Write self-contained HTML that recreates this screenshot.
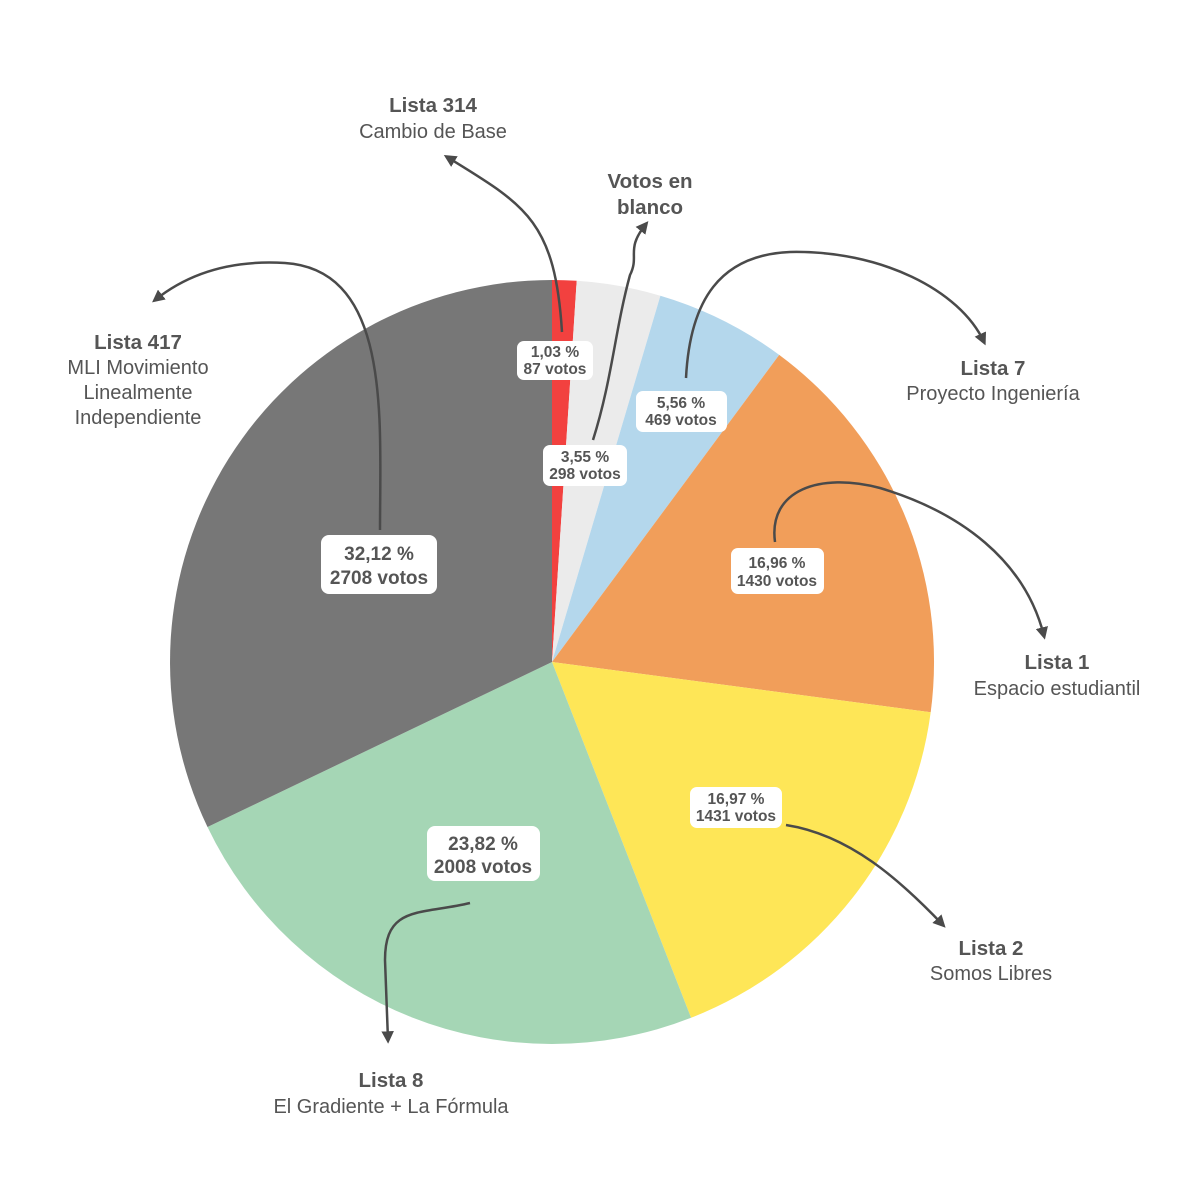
<!DOCTYPE html>
<html><head><meta charset="utf-8"><style>
html,body{margin:0;padding:0;background:#fff;}
svg{display:block;font-family:"Liberation Sans",sans-serif;}
.t{font-weight:bold;font-size:20.5px;fill:#555;text-anchor:middle}
.s{font-size:20px;fill:#555;text-anchor:middle}
.b{font-weight:bold;fill:#555;text-anchor:middle}
.a{fill:none;stroke:#4a4a4a;stroke-width:2.5;marker-end:url(#m)}
</style></head><body>
<svg width="1200" height="1200" viewBox="0 0 1200 1200">
<defs><marker id="m" viewBox="0 0 10 10" refX="7" refY="5" markerWidth="5" markerHeight="5" orient="auto"><path d="M0,0 L10,5 L0,10 z" fill="#4a4a4a"/></marker></defs>
<path d="M552,662 L552,280 A382,382 0 0,1 576.7,280.8 Z" fill="#f2413f"/>
<path d="M552,662 L576.7,280.8 A382,382 0 0,1 660.4,295.7 Z" fill="#ebebeb"/>
<path d="M552,662 L660.4,295.7 A382,382 0 0,1 779.2,354.9 Z" fill="#b4d7ec"/>
<path d="M552,662 L779.2,354.9 A382,382 0 0,1 930.7,712.3 Z" fill="#f19e5a"/>
<path d="M552,662 L930.7,712.3 A382,382 0 0,1 691.1,1017.8 Z" fill="#fee657"/>
<path d="M552,662 L691.1,1017.8 A382,382 0 0,1 207.5,827 Z" fill="#a5d6b5"/>
<path d="M552,662 L207.5,827 A382,382 0 0,1 552,280 Z" fill="#777777"/>

<path class="a" d="M562,332 C555,220 525,205 447,157"/>
<path class="a" d="M593,440 C612,380 615,330 630,275 C640,255 625,250 646,224"/>
<path class="a" d="M686,378 C690,300 720,255 790,252 C880,250 960,290 984,342"/>
<path class="a" d="M775,542 C768,490 820,472 880,488 C960,512 1025,560 1044,636"/>
<path class="a" d="M786,825 C850,835 900,880 943,925"/>
<path class="a" d="M470,903 C420,915 385,905 385,960 L388,1040"/>
<path class="a" d="M380,530 C380,420 392,270 285,263 C220,259 180,280 155,300"/>

<rect x="517" y="341" width="76" height="39" rx="7" fill="#fff"/>
<text class="b" font-size="15.5" x="555" y="357">1,03 %</text><text class="b" font-size="15.5" x="555" y="374">87 votos</text>
<rect x="543" y="445" width="84" height="41" rx="7" fill="#fff"/>
<text class="b" font-size="15.5" x="585" y="462">3,55 %</text><text class="b" font-size="15.5" x="585" y="479">298 votos</text>
<rect x="636" y="391" width="91" height="41" rx="7" fill="#fff"/>
<text class="b" font-size="15.5" x="681" y="408">5,56 %</text><text class="b" font-size="15.5" x="681" y="425">469 votos</text>
<rect x="731" y="548" width="93" height="46" rx="7" fill="#fff"/>
<text class="b" font-size="15.5" x="777" y="568">16,96 %</text><text class="b" font-size="15.5" x="777" y="586">1430 votos</text>
<rect x="690" y="787" width="92" height="41" rx="7" fill="#fff"/>
<text class="b" font-size="15.5" x="736" y="804">16,97 %</text><text class="b" font-size="15.5" x="736" y="821">1431 votos</text>
<rect x="427" y="826" width="113" height="55" rx="8" fill="#fff"/>
<text class="b" font-size="19" x="483" y="850">23,82 %</text><text class="b" font-size="19" x="483" y="873">2008 votos</text>
<rect x="321" y="535" width="116" height="59" rx="8" fill="#fff"/>
<text class="b" font-size="19" x="379" y="560">32,12 %</text><text class="b" font-size="19" x="379" y="584">2708 votos</text>

<text class="t" x="433" y="112">Lista 314</text><text class="s" x="433" y="138">Cambio de Base</text>
<text class="t" x="650" y="188">Votos en</text><text class="t" x="650" y="214">blanco</text>
<text class="t" x="993" y="375">Lista 7</text><text class="s" x="993" y="400">Proyecto Ingeniería</text>
<text class="t" x="1057" y="669">Lista 1</text><text class="s" x="1057" y="695">Espacio estudiantil</text>
<text class="t" x="991" y="955">Lista 2</text><text class="s" x="991" y="980">Somos Libres</text>
<text class="t" x="391" y="1087">Lista 8</text><text class="s" x="391" y="1113">El Gradiente + La Fórmula</text>
<text class="t" x="138" y="349">Lista 417</text><text class="s" x="138" y="374">MLI Movimiento</text><text class="s" x="138" y="399">Linealmente</text><text class="s" x="138" y="424">Independiente</text>
</svg>
</body></html>
